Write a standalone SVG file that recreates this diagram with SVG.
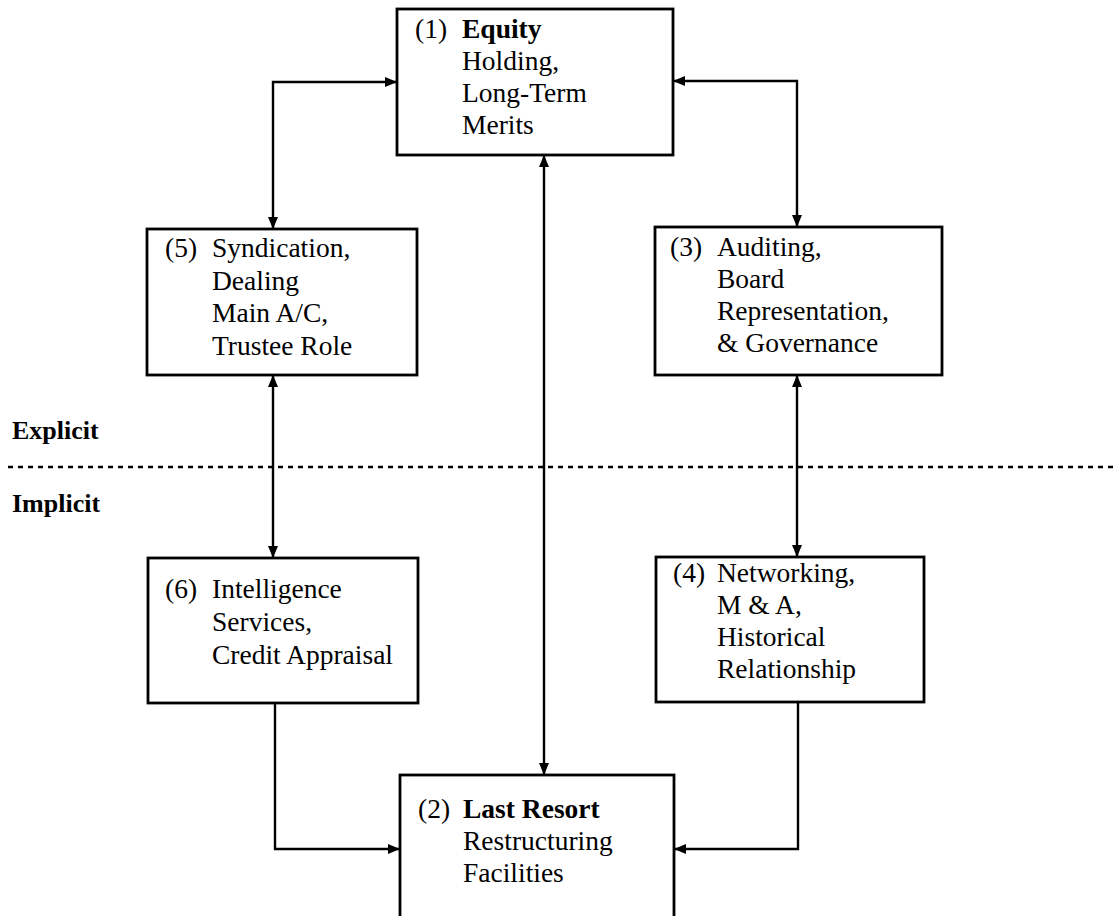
<svg xmlns="http://www.w3.org/2000/svg" width="1113" height="916" viewBox="0 0 1113 916">
  <style>
    .box { fill: #ffffff; stroke: #000000; stroke-width: 2.8; }
    .link { fill: none; stroke: #000000; stroke-width: 2.4; }
    .divider { fill: none; stroke: #000000; stroke-width: 2.5; stroke-dasharray: 5 5; }
    text { font-family: "Liberation Serif", "Times New Roman", serif; font-size: 27.5px; fill: #000000; }
    .b { font-weight: bold; }
    .zone { font-weight: bold; font-size: 26px; }
  </style>
  <defs>
    <marker id="arrow" markerUnits="userSpaceOnUse" markerWidth="12" markerHeight="10" viewBox="0 0 12 10" refX="12" refY="5" orient="auto-start-reverse">
      <path d="M0,0 L12,5 L0,10 z" fill="#000000"/>
    </marker>
  </defs>

  <rect width="1113" height="916" fill="#ffffff"/>

  <!-- explicit / implicit divider -->
  <g id="divider">
    <line class="divider" x1="8" y1="467" x2="1113" y2="467"/>
    <text class="zone" x="12" y="439">Explicit</text>
    <text class="zone" x="12" y="512">Implicit</text>
  </g>

  <!-- connectors -->
  <g id="connectors">
    <path class="link" d="M273,229 V82 H397" marker-start="url(#arrow)" marker-end="url(#arrow)"/>
    <path class="link" d="M797,227 V81 H673" marker-start="url(#arrow)" marker-end="url(#arrow)"/>
    <path class="link" d="M544,155 V775" marker-start="url(#arrow)" marker-end="url(#arrow)"/>
    <path class="link" d="M273,375 V558" marker-start="url(#arrow)" marker-end="url(#arrow)"/>
    <path class="link" d="M797,375 V557" marker-start="url(#arrow)" marker-end="url(#arrow)"/>
    <path class="link" d="M275,703 V849 H400" marker-end="url(#arrow)"/>
    <path class="link" d="M798,702 V849 H674" marker-end="url(#arrow)"/>
  </g>

  <!-- (1) Equity holding -->
  <g id="node1">
    <rect class="box" x="397" y="9" width="276" height="146"/>
    <text x="415" y="38">(1)</text>
    <text class="b" x="462" y="38">Equity</text>
    <text x="462" y="70">Holding,</text>
    <text x="462" y="102">Long-Term</text>
    <text x="462" y="134">Merits</text>
  </g>

  <!-- (5) Syndication -->
  <g id="node5">
    <rect class="box" x="147" y="229" width="270" height="146"/>
    <text x="165" y="257">(5)</text>
    <text x="212" y="257">Syndication,</text>
    <text x="212" y="290">Dealing</text>
    <text x="212" y="322">Main A/C,</text>
    <text x="212" y="355">Trustee Role</text>
  </g>

  <!-- (3) Auditing -->
  <g id="node3">
    <rect class="box" x="655" y="227" width="287" height="148"/>
    <text x="670" y="256">(3)</text>
    <text x="717" y="256">Auditing,</text>
    <text x="717" y="288">Board</text>
    <text x="717" y="320">Representation,</text>
    <text x="717" y="352">&amp; Governance</text>
  </g>

  <!-- (6) Intelligence services -->
  <g id="node6">
    <rect class="box" x="148" y="558" width="270" height="145"/>
    <text x="165" y="598">(6)</text>
    <text x="212" y="598">Intelligence</text>
    <text x="212" y="631">Services,</text>
    <text x="212" y="664">Credit Appraisal</text>
  </g>

  <!-- (4) Networking -->
  <g id="node4">
    <rect class="box" x="656" y="557" width="268" height="145"/>
    <text x="673" y="582">(4)</text>
    <text x="717" y="582">Networking,</text>
    <text x="717" y="614">M &amp; A,</text>
    <text x="717" y="646">Historical</text>
    <text x="717" y="678">Relationship</text>
  </g>

  <!-- (2) Last resort -->
  <g id="node2">
    <rect class="box" x="400" y="775" width="274" height="160"/>
    <text x="418" y="818">(2)</text>
    <text class="b" x="463" y="818">Last Resort</text>
    <text x="463" y="850">Restructuring</text>
    <text x="463" y="882">Facilities</text>
  </g>
</svg>
